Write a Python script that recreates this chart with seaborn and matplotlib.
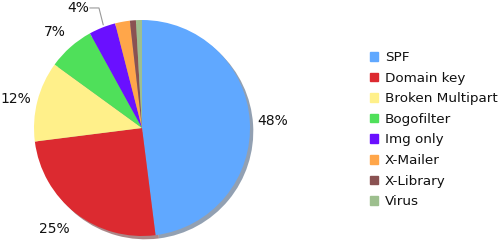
import matplotlib
matplotlib.use("Agg")
import matplotlib.pyplot as plt
import seaborn as sns
import numpy as np

sns.set_theme(style="white")
plt.rcParams['font.family'] = ['DejaVu Sans']

categories = ["SPF", "Domain key", "Broken Multipart", "Bogofilter",
              "Img only", "X-Mailer", "X-Library", "Virus"]
values = [48, 25, 12, 7, 4, 2.2, 0.9, 0.9]
colors = ["#60A8FF", "#DC2A30", "#FFF08A", "#4FE05A",
          "#6A10FF", "#FFA64A", "#8A5252", "#9DBF8E"]

fig = plt.figure(figsize=(5.0, 2.42), dpi=100)
ax = fig.add_axes([34/500, 6/242, 216/500, 216/242])

wedges, _ = ax.pie(values, colors=colors, startangle=90, counterclock=False,
                   radius=1.0,
                   shadow={'ox': 0.022, 'oy': -0.022, 'shade': 0.6},
                   wedgeprops=dict(linewidth=0))
ax.set_xlim(-1, 1)
ax.set_ylim(-1, 1)
ax.set_aspect('equal')
ax.axis('off')

total = sum(values)
# label placement: angle tweak (deg) and radius
angle_shift = {0: -0.5, 1: -3, 2: 1.5, 3: 1, 4: 6.5}
radius = {0: 1.215, 1: 1.24, 2: 1.2, 3: 1.2, 4: 1.26}
for i, (w, v) in enumerate(zip(wedges, values)):
    if v < 4:
        continue
    mid = (w.theta1 + w.theta2) / 2
    theta = mid + angle_shift[i]
    r = radius[i]
    x, y = r * np.cos(np.radians(theta)), r * np.sin(np.radians(theta))
    lbl = f"{v/total*100:.0f}%"
    ax.text(x, y, lbl, ha='center', va='center', fontsize=10,
            color="#111111", clip_on=False)
    if i == 4:
        ex, ey = 1.02 * np.cos(np.radians(mid - 1)), 1.02 * np.sin(np.radians(mid - 1))
        ax.plot([x + 0.11, x + 0.195, ex], [y, y, ey],
                color="#999999", lw=0.8, clip_on=False)

handles = [plt.Rectangle((0, 0), 1, 1, color=c) for c in colors]
fig.legend(handles, categories, loc='upper left', bbox_to_anchor=(370/500, 1 - 51/242),
           frameon=False, fontsize=9.7, handlelength=0.6, handleheight=0.6,
           handletextpad=0.52, labelspacing=0.565, borderaxespad=0, borderpad=0,
           labelcolor="#111111")

fig.savefig("out.png", dpi=100)
